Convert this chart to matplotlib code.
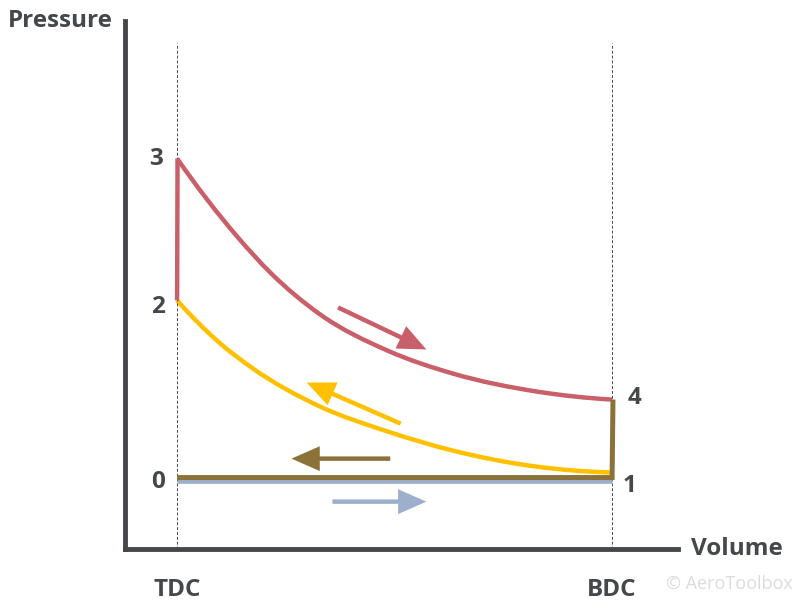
import matplotlib.pyplot as plt
from matplotlib.patches import PathPatch
from matplotlib.path import Path

plt.rcParams['font.family'] = ['Open Sans', 'DejaVu Sans']

# volume: 0 at TDC, 1 at BDC. pressure: 0 at intake line, 1 at peak
expansion_v = [0, .138, .214, .329, .483, .634, .827, 1]
expansion_p = [1, .757, .645, .514, .402, .330, .274, .249]
compression_v = [0, .099, .174, .329, .483, .634, .827, .995]
compression_p = [.558, .424, .346, .227, .150, .090, .040, .022]
combustion_v = [0, .001]
combustion_p = [.558, 1]
exhaust_v = [0, 1, 1.002]
exhaust_p = [.006, .006, .249]
intake_v = [0, 1]
intake_p = [-.006, -.006]

dark = '#45484b'
red = '#c95f69'
yellow = '#ffc000'
brown = '#8a7238'
blue = '#9dafca'

fig = plt.figure(figsize=(8.12, 6.15), dpi=100)
ax = fig.add_axes([125 / 812, 66.5 / 615, 553 / 812, 528 / 615])
ax.set_xlim(-.1198, 1.1515)
ax.set_ylim(-.215, 1.430)

for side in ['top', 'right']:
    ax.spines[side].set_visible(False)
for side in ['left', 'bottom']:
    ax.spines[side].set_linewidth(3.5)
    ax.spines[side].set_color(dark)

ax.set_yticks([])
ax.set_xticks([0, 1], ['TDC', 'BDC'], fontsize=17.5, fontweight='bold', color=dark)
ax.tick_params(axis='x', length=0, pad=21.5)

# TDC / BDC guides
ax.plot([0, 0], [-.215, 1.361], color=dark, lw=.7, ls=(0, (3, 2)))
ax.plot([1, 1], [-.215, 1.361], color=dark, lw=.7, ls=(0, (3, 2)))


def smooth_curve(v, p, color):
    # bezier segments through the read points, tangents weighted by the point spacing
    n = len(v)
    h = [v[i + 1] - v[i] for i in range(n - 1)]
    d = [(p[i + 1] - p[i]) / h[i] for i in range(n - 1)]
    slopes = [d[0] + (d[0] - d[1]) * h[0] / (h[0] + h[1])]
    for i in range(1, n - 1):
        slopes.append((h[i] * d[i - 1] + h[i - 1] * d[i]) / (h[i - 1] + h[i]))
    slopes.append(d[-1] + (d[-1] - d[-2]) * h[-1] / (h[-1] + h[-2]))
    verts = [(v[0], p[0])]
    codes = [Path.MOVETO]
    for i in range(n - 1):
        t = h[i] / 3
        verts += [(v[i] + t, p[i] + slopes[i] * t),
                  (v[i + 1] - t, p[i + 1] - slopes[i + 1] * t),
                  (v[i + 1], p[i + 1])]
        codes += [Path.CURVE4] * 3
    ax.add_patch(PathPatch(Path(verts, codes), fc='none', ec=color, lw=3.2, capstyle='butt'))


ax.plot(intake_v, intake_p, color=blue, lw=3.4, solid_capstyle='butt')
smooth_curve(compression_v, compression_p, yellow)
smooth_curve(expansion_v, expansion_p, red)
ax.plot(combustion_v, combustion_p, color=red, lw=3.2, solid_capstyle='butt')
ax.plot(exhaust_v, exhaust_p, color=brown, lw=3.6, solid_joinstyle='miter', solid_capstyle='butt')


def arrow(start, end, color):
    ax.annotate('', xy=end, xytext=start,
                arrowprops=dict(arrowstyle='-|>,head_length=.82,head_width=.36', color=color,
                                lw=3.2, mutation_scale=18, shrinkA=0, shrinkB=0,
                                joinstyle='miter', capstyle='butt'))


arrow((.370, .536), (.573, .405), red)
arrow((.514, .174), (.298, .302), yellow)
arrow((.490, .065), (.263, .065), brown)
arrow((.357, -.069), (.573, -.069), blue)

for label, v, p in [('3', -.049, 1.000), ('2', -.045, .536), ('0', -.043, -.009),
                    ('1', 1.040, -.019), ('4', 1.051, .253),
                    ('Pressure', -.268, 1.427), ('Volume', 1.286, -.218)]:
    ax.text(v, p, label, fontsize=17.5, fontweight='bold', color=dark,
            ha='center', va='center', clip_on=False)

ax.text(1.270, -.324, '© AeroToolbox', fontsize=13, color='#dcdcdc',
        ha='center', va='center', clip_on=False)

fig.savefig('out.png', dpi=100)
